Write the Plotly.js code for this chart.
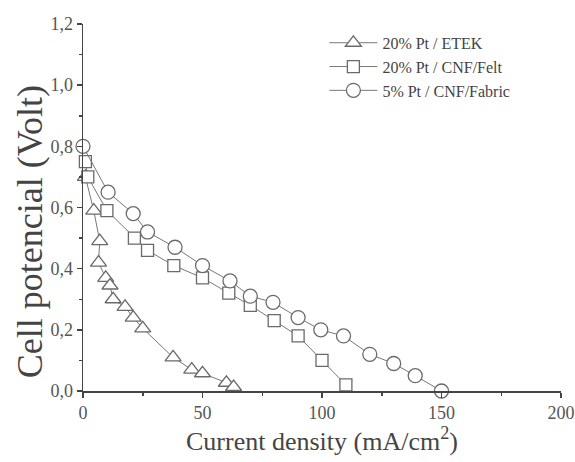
<!DOCTYPE html>
<html>
<head>
<meta charset="utf-8">
<script src="https://cdn.plot.ly/plotly-3.0.1.min.js"></script>
<style>body{margin:0;padding:0;background:#fff;}#chart{width:575px;height:462px;}</style>
</head>
<body>
<div id="chart"></div>
<script>
const etekX = [1, 4.5, 7, 6.5, 9.5, 11.3, 12.6, 17.6, 21, 25, 37.7, 45.5, 50, 60, 63];
const etekY = [0.70, 0.59, 0.49, 0.42, 0.37, 0.345, 0.30, 0.275, 0.24, 0.205, 0.11, 0.07, 0.058, 0.027, 0.013];
const feltX = [1, 2, 10, 21.5, 27, 38, 50, 61, 70, 80, 90, 100, 110];
const feltY = [0.75, 0.70, 0.59, 0.50, 0.46, 0.41, 0.37, 0.32, 0.28, 0.23, 0.18, 0.10, 0.02];
const fabricX = [0, 10.5, 21, 27, 38.5, 50, 61.5, 70, 79.5, 90, 99.5, 109, 120, 130, 139, 150];
const fabricY = [0.80, 0.65, 0.58, 0.52, 0.47, 0.41, 0.36, 0.31, 0.29, 0.24, 0.20, 0.18, 0.12, 0.09, 0.05, 0.0];
const names = ["20% Pt / ETEK", "20% Pt / CNF/Felt", "5% Pt / CNF/Fabric"];
const xTicks = [0, 50, 100, 150, 200];
const yTicks = [0, 0.2, 0.4, 0.6, 0.8, 1.0, 1.2];
const yTitle = 'Cell potencial (Volt)';
const xTitle = 'Current density (mA/cm<sup>2</sup>)';

const markerColor = '#6a6a6a';
const lineColor = '#777';
function tr(x, y, name, sym, size) {
  return {
    x: x, y: y, name: name, type: 'scatter', mode: 'lines+markers',
    cliponaxis: false,
    line: {color: lineColor, width: 1},
    marker: {symbol: sym, size: size, color: '#fff', line: {color: markerColor, width: 1.3}}
  };
}
const data = [
  tr(etekX, etekY, names[0], 'triangle-up', 14),
  tr(feltX, feltY, names[1], 'square', 12),
  tr(fabricX, fabricY, names[2], 'circle', 14)
];
const layout = {
  width: 575, height: 462,
  margin: {l: 83, r: 14, t: 24, b: 71},
  paper_bgcolor: '#fff', plot_bgcolor: '#fff',
  separators: ',.',
  font: {family: '"Liberation Serif", "Times New Roman", serif', color: '#555', size: 14},
  showlegend: true,
  legend: {x: 0.505, y: 0.995, xanchor: 'left', yanchor: 'top', bgcolor: 'rgba(0,0,0,0)',
           font: {size: 16, color: '#444'}, tracegroupgap: 0, itemwidth: 48},
  xaxis: {
    range: [0, 200], tickvals: xTicks, ticktext: xTicks.map(String),
    showgrid: false, zeroline: false, showline: true, linecolor: '#444', linewidth: 1.5,
    ticks: 'outside', ticklen: 5, tickwidth: 1.5, tickcolor: '#444',
    minor: {tickvals: [25, 75, 125, 175], ticks: 'outside', ticklen: 3, tickwidth: 1.5, tickcolor: '#444'},
    tickfont: {size: 18, color: '#555'},
    title: {text: xTitle, font: {size: 26, color: '#444'}, standoff: 8}
  },
  yaxis: {
    range: [0, 1.2], tickvals: yTicks, tickformat: '.1f',
    showgrid: false, zeroline: false, showline: true, linecolor: '#444', linewidth: 1.5,
    ticks: 'outside', ticklen: 5, tickwidth: 1.5, tickcolor: '#444',
    minor: {tickvals: [0.1, 0.3, 0.5, 0.7, 0.9, 1.1], ticks: 'outside', ticklen: 3, tickwidth: 1.5, tickcolor: '#444'},
    tickfont: {size: 18, color: '#555'}
  },
  annotations: [{
    text: yTitle, xref: 'paper', yref: 'paper', x: -0.111, y: 0.435,
    xanchor: 'center', yanchor: 'middle', textangle: -90, showarrow: false,
    font: {size: 36, color: '#444'}
  }]
};
Plotly.newPlot('chart', data, layout, {displayModeBar: false, staticPlot: true});
</script>
</body>
</html>
